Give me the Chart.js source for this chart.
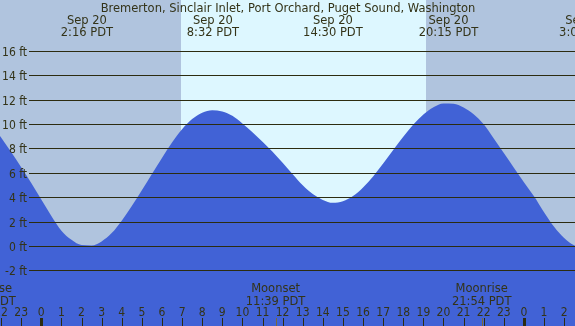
<!DOCTYPE html>
<html><head><meta charset="utf-8">
<script src="https://cdn.jsdelivr.net/npm/chart.js@4"></script>
<style>html,body{margin:0;padding:0;background:#B0C4DE;}canvas{display:block;}</style>
</head><body>
<canvas id="c" width="575" height="326"></canvas>
<script>
// Hours relative to Sep 20 00:00 PDT, tide height in ft
const hours = [-3,-2.5,-2,-1.5,-1,-0.5,0,0.5,1,1.5,2,2.5,3,3.5,4,4.5,5,5.5,6,6.5,7,7.5,8,8.5,9,9.5,10,10.5,11,11.5,12,12.5,13,13.5,14,14.5,15,15.5,16,16.5,17,17.5,18,18.5,19,19.5,20,20.5,21,21.5,22,22.5,23,23.5,24,24.5,25,25.5,26,26.5,27,27.5];
const heights = [10.9,10.0,8.95,7.75,6.5,5.2,3.85,2.5,1.3,0.55,0.12,0.09,0.42,1.1,2.12,3.33,4.62,5.95,7.27,8.53,9.62,10.46,10.98,11.18,11.07,10.72,10.1,9.38,8.6,7.78,6.88,5.93,5.02,4.3,3.82,3.58,3.71,4.14,4.84,5.75,6.8,7.91,9.0,10.0,10.82,11.42,11.73,11.72,11.4,10.85,10.02,8.85,7.66,6.46,5.28,4.12,2.82,1.62,0.7,0.1,-0.15,0.0];
const title = "Bremerton, Sinclair Inlet, Port Orchard, Puget Sound, Washington";
const tideTimes = [2.267, 8.533, 14.5, 20.25, 27.05];
const tideDates = ["Sep 20","Sep 20","Sep 20","Sep 20","Sep 21"];
const tideLabels = ["2:16 PDT","8:32 PDT","14:30 PDT","20:15 PDT","3:03 PDT"];
const moonTimes = [-2.75, 11.65, 21.9];
const moonNames = ["Moonrise","Moonset","Moonrise"];
const moonLabels = ["21:15 PDT","11:39 PDT","21:54 PDT"];
const sunrise = 6.93, sunset = 19.15;
const ftTicks = [-2,0,2,4,6,8,10,12,14,16];
const hourTicks = [-2,-1,0,1,2,3,4,5,6,7,8,9,10,11,12,13,14,15,16,17,18,19,20,21,22,23,24,25,26];

const NIGHT='#B0C4DE', DAY='#DDF7FF', FILL='#4162D6', INK='#2c2c10', TXT='#333318';

const deco = {
  id:'deco',
  beforeDatasetsDraw(chart){
    const {ctx, scales:{x}} = chart;
    ctx.save();
    ctx.fillStyle=NIGHT; ctx.fillRect(0,0,chart.width,chart.height);
    const x1=x.getPixelForValue(sunrise), x2=x.getPixelForValue(sunset);
    ctx.fillStyle=DAY; ctx.fillRect(Math.round(x1),0,Math.round(x2)-Math.round(x1),chart.height);
    ctx.restore();
  },
  afterDatasetsDraw(chart){
    const {ctx, scales:{x,y}} = chart;
    ctx.save();
    ctx.strokeStyle=INK; ctx.lineWidth=1;
    ctx.font='12px "DejaVu Sans Condensed", "DejaVu Sans"';
    ctx.fillStyle=TXT; ctx.textAlign='right'; ctx.textBaseline='alphabetic';
    ftTicks.forEach(v=>{
      const py=Math.floor(y.getPixelForValue(v))+0.5;
      ctx.beginPath(); ctx.moveTo(29,py); ctx.lineTo(575,py); ctx.stroke();
      ctx.fillText(v+' ft',27,py+4.5);
    });
    ctx.textAlign='center';
    ctx.font='11.5px "DejaVu Sans"';
    ctx.fillText(title,288,11.7);
    tideTimes.forEach((t,i)=>{
      const px=x.getPixelForValue(t);
      ctx.fillText(tideDates[i],px,24);
      ctx.fillText(tideLabels[i],px,36);
    });
    moonTimes.forEach((t,i)=>{
      const px=x.getPixelForValue(t);
      ctx.fillText(moonNames[i],px,292);
      ctx.fillText(moonLabels[i],px,304.5);
      ctx.fillStyle='#7a6a3a';
      ctx.fillRect(Math.round(px),318,1,8);
      ctx.fillStyle=TXT;
    });
    ctx.font='12px "DejaVu Sans Condensed", "DejaVu Sans"';
    hourTicks.forEach(h=>{
      const px=x.getPixelForValue(h);
      const lab=((h%24)+24)%24;
      ctx.fillStyle=TXT;
      ctx.fillText(String(lab),px,316);
      ctx.fillStyle=INK;
      if(lab===0) ctx.fillRect(Math.round(px)-1,318,3,8);
      else ctx.fillRect(Math.round(px),318,1,8);
    });
    ctx.restore();
  }
};

new Chart(document.getElementById('c'),{
  type:'line',
  data:{datasets:[{
    data:hours.map((h,i)=>({x:h,y:heights[i]})),
    fill:'start', backgroundColor:FILL, borderWidth:0, borderColor:FILL,
    pointRadius:0, cubicInterpolationMode:'monotone'
  }]},
  options:{
    responsive:false, animation:false, devicePixelRatio:1,
    layout:{padding:0},
    plugins:{legend:{display:false},tooltip:{enabled:false}},
    scales:{
      x:{type:'linear',display:false,min:-2.054,max:26.54},
      y:{type:'linear',display:false,min:-6.52,max:20.22}
    }
  },
  plugins:[deco]
});
</script>
</body></html>
